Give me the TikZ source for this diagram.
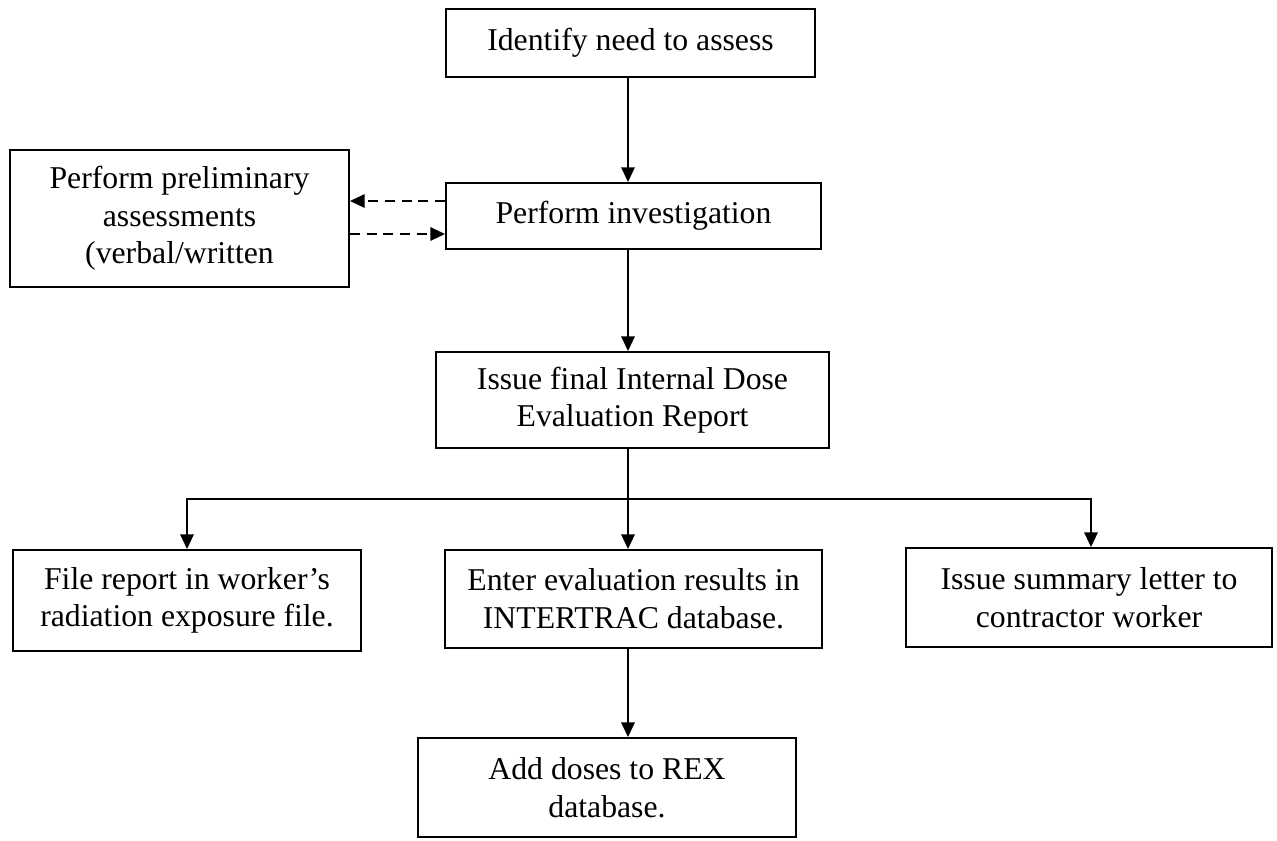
\documentclass[tikz,border=0pt]{standalone}
\usepackage{fontspec}
\setmainfont{Liberation Serif}
\usetikzlibrary{arrows.meta,calc}
\begin{document}
\begin{tikzpicture}[x=0.75pt,y=-0.75pt,
  stepbox/.style={draw,line width=1.4pt,align=center,inner sep=0pt,
    font=\fontsize{23.8}{28.2}\selectfont},
  arr/.style={line width=1.4pt,-{Triangle[length=11pt,width=10pt]}},
  darr/.style={arr,dash pattern=on 7.5pt off 5pt}]
\useasboundingbox[fill=white] (0,0) rectangle (1277,840);

% process steps
\node[stepbox,minimum width=276.75pt,minimum height=51pt] (need) at (630.5,43) {Identify need to assess};
\node[stepbox,minimum width=281.25pt,minimum height=49.5pt] (invest) at (633.5,216) {Perform investigation};
\node[stepbox,minimum width=254.25pt,minimum height=102.75pt] (prelim) at (179.5,218.5) {Perform preliminary\\assessments\\(verbal/written};
\node[stepbox,minimum width=294.75pt,minimum height=72pt] (report) at (632.5,400) {Issue final Internal Dose\\Evaluation Report};
\node[stepbox,minimum width=261pt,minimum height=75.75pt] (file) at (187,600.5) {File report in worker’s\\radiation exposure file.};
\node[stepbox,minimum width=282.75pt,minimum height=73.5pt] (enter) at (633.5,599) {Enter evaluation results in\\INTERTRAC database.};
\node[stepbox,minimum width=274.5pt,minimum height=74.25pt] (letter) at (1089,597.5) {Issue summary letter to\\contractor worker};
\node[stepbox,minimum width=283.5pt,minimum height=74.25pt] (rex) at (607,787.5) {Add doses to REX\\database.};

% main vertical flow
\coordinate (spine) at (628,0);
\coordinate (bus) at (628,499);
\draw[arr] (need.south -| spine) -- (invest.north -| spine);
\draw[arr] (invest.south -| spine) -- (report.north -| spine);

% exchange with preliminary assessments
\draw[darr] ([yshift=11.25pt]invest.west) coordinate (d1) -- (d1 -| prelim.east);
\path ([yshift=-13.5pt]invest.west) coordinate (d2);
\draw[darr] (d2 -| prelim.east) -- (d2);

% distribution of the report
\draw[line width=1.4pt] (report.south -| spine) -- (bus);
\draw[arr] (bus) -| (file.north);
\draw[arr] (bus) -| ([xshift=1.5pt]letter.north);
\draw[arr] (bus) -- (enter.north -| bus);
\draw[arr] (enter.south -| spine) -- (rex.north -| spine);
\end{tikzpicture}
\end{document}
